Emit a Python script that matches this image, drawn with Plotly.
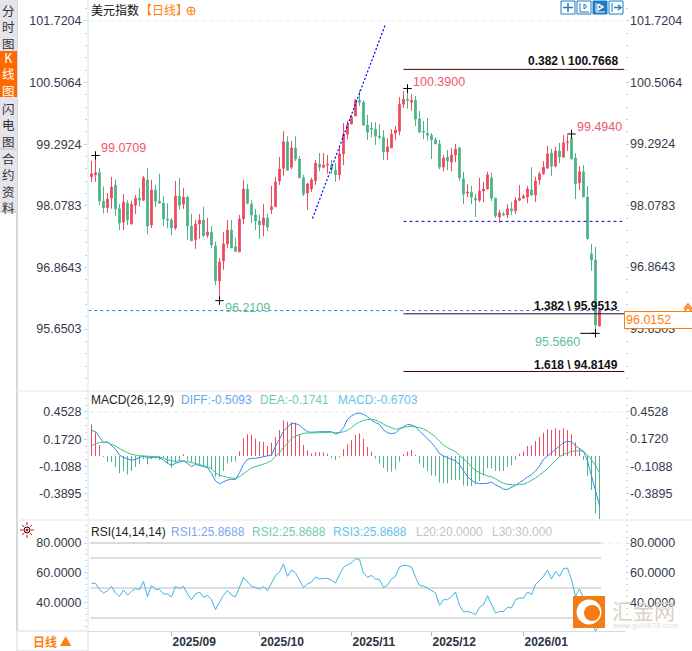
import plotly.graph_objects as go

# ------------------------------
# Data
# ------------------------------

opens = [
    98.65, 98.69, 98.73, 98.17, 98.04, 98.23, 98.49, 98.02, 97.76, 98.13,
    97.72, 98.09, 98.23, 98.19, 98.59, 97.70, 98.39, 98.17, 98.13, 97.82,
    97.80, 97.64, 98.27, 98.11, 98.25, 97.68, 97.41, 97.72, 97.80, 97.50,
    97.56, 97.29, 96.60, 96.99, 97.33, 97.60, 97.27, 97.17, 97.82, 98.41,
    98.11, 97.90, 97.78, 97.70, 97.84, 98.00, 98.06, 98.57, 98.82, 99.34,
    98.84, 99.22, 99.00, 98.63, 98.33, 98.41, 98.57, 98.90, 98.84, 98.88,
    98.88, 98.78, 98.69, 99.10, 99.49, 99.69, 99.85, 100.16, 100.12, 99.67,
    99.61, 99.59, 99.45, 99.43, 99.14, 99.22, 99.51, 99.55, 100.08, 100.18,
    100.12, 100.16, 99.79, 99.55, 99.51, 99.47, 99.38, 99.30, 98.84, 99.04,
    98.94, 99.08, 99.22, 98.61, 98.33, 98.35, 98.23, 98.19, 98.37, 98.41,
    98.63, 98.23, 97.86, 97.92, 97.90, 98.02, 97.98, 98.19, 98.23, 98.25,
    98.39, 98.29, 98.59, 98.71, 98.82, 99.12, 98.86, 99.16, 99.04, 99.33,
    99.41, 99.02, 98.53, 98.75, 98.25, 97.13, 97.01, 95.71,
]
closes = [
    98.71, 98.73, 98.18, 98.04, 98.21, 98.45, 98.02, 97.74, 98.15, 97.80,
    98.11, 98.23, 98.19, 98.63, 97.68, 98.39, 98.17, 98.13, 97.82, 97.80,
    97.64, 98.27, 98.09, 98.25, 97.68, 97.39, 97.72, 97.80, 97.49, 97.56,
    97.31, 96.60, 96.97, 97.33, 97.60, 97.25, 97.18, 97.82, 98.41, 98.13,
    97.90, 97.78, 97.70, 97.84, 97.66, 98.06, 98.55, 98.80, 99.34, 98.78,
    99.22, 99.00, 98.63, 98.31, 98.51, 98.59, 98.92, 98.84, 98.88, 98.90,
    98.80, 98.69, 99.10, 99.49, 99.67, 99.83, 100.16, 100.12, 99.67, 99.53,
    99.59, 99.45, 99.43, 99.14, 99.24, 99.49, 99.57, 100.08, 100.18, 100.16,
    100.16, 99.79, 99.53, 99.53, 99.47, 99.38, 99.30, 98.84, 99.02, 98.96,
    99.08, 99.20, 98.63, 98.31, 98.35, 98.25, 98.19, 98.37, 98.41, 98.69,
    98.23, 97.88, 97.94, 97.90, 98.02, 97.98, 98.19, 98.23, 98.27, 98.41,
    98.29, 98.57, 98.71, 98.84, 99.10, 98.86, 99.16, 99.04, 99.32, 99.34,
    99.00, 98.51, 98.75, 98.25, 97.43, 97.01, 95.73, 96.0152,
]
highs = [
    98.96, 99.0709, 98.83, 98.46, 98.33, 98.65, 98.60, 98.11, 98.31, 98.19,
    98.18, 98.29, 98.43, 98.67, 98.82, 98.59, 98.49, 98.71, 98.27, 98.13,
    97.84, 98.57, 98.63, 98.43, 98.27, 97.92, 97.80, 97.92, 98.06, 97.84,
    97.68, 97.37, 97.05, 97.56, 97.80, 97.80, 97.45, 97.90, 98.59, 98.51,
    98.19, 98.02, 97.90, 98.11, 97.92, 98.47, 98.65, 99.04, 99.55, 99.45,
    99.36, 99.45, 99.06, 98.69, 98.53, 98.63, 98.98, 99.12, 99.12, 99.08,
    98.98, 98.92, 99.24, 99.71, 99.75, 99.87, 100.18, 100.36, 100.16, 99.87,
    99.73, 99.73, 99.69, 99.57, 99.41, 99.59, 99.65, 100.22, 100.34, 100.39,
    100.28, 100.24, 99.95, 99.75, 99.81, 99.51, 99.43, 99.38, 99.08, 99.18,
    99.22, 99.30, 99.24, 98.75, 98.51, 98.47, 98.31, 98.63, 98.55, 98.75,
    98.73, 98.23, 98.00, 97.96, 98.11, 98.15, 98.25, 98.49, 98.31, 98.47,
    98.84, 98.65, 98.75, 98.96, 99.26, 99.20, 99.24, 99.32, 99.47, 99.47,
    99.494, 99.12, 98.86, 98.88, 98.47, 97.33, 97.27, 96.02,
]
lows = [
    98.55, 98.55, 98.09, 97.93, 97.94, 98.02, 97.88, 97.60, 97.60, 97.70,
    97.71, 97.92, 98.06, 98.17, 97.52, 97.64, 98.06, 98.13, 97.68, 97.64,
    97.50, 97.60, 98.00, 98.02, 97.41, 97.39, 97.23, 97.43, 97.47, 97.45,
    97.25, 96.52, 96.2109, 96.82, 97.25, 97.25, 97.17, 97.17, 97.72, 98.11,
    97.74, 97.60, 97.43, 97.48, 97.58, 97.92, 98.06, 98.49, 98.67, 98.78,
    98.80, 98.96, 98.63, 98.27, 98.00, 98.35, 98.49, 98.76, 98.82, 98.71,
    98.71, 98.55, 98.59, 98.88, 99.39, 99.69, 99.85, 100.05, 99.65, 99.38,
    99.43, 99.28, 99.39, 98.98, 98.98, 99.22, 99.38, 99.47, 100.01, 99.99,
    99.95, 99.65, 99.53, 99.39, 99.36, 99.00, 99.30, 98.80, 98.76, 98.78,
    98.76, 98.94, 98.57, 98.11, 98.25, 98.11, 97.86, 98.15, 98.15, 98.41,
    98.17, 97.84, 97.74, 97.88, 97.84, 97.90, 97.92, 98.17, 98.23, 98.13,
    98.27, 98.15, 98.49, 98.69, 98.82, 98.67, 98.84, 98.92, 99.02, 99.16,
    99.00, 98.21, 98.39, 98.25, 97.41, 96.80, 95.566, 95.71,
]

macd_hist = [
    0.326, 0.240, 0.110, -0.010, -0.058, -0.062, -0.113, -0.178, -0.154, -0.189,
    -0.154, -0.113, -0.086, -0.034, -0.086, -0.034, -0.027, -0.041, -0.017, -0.075,
    -0.120, -0.069, -0.045, 0.017, -0.045, -0.062, -0.079, -0.086, -0.096, -0.110,
    -0.137, -0.213, -0.213, -0.154, -0.075, -0.062, -0.055, 0.048, 0.182, 0.223,
    0.216, 0.178, 0.151, 0.144, 0.103, 0.137, 0.195, 0.267, 0.367, 0.353,
    0.346, 0.343, 0.223, 0.113, 0.058, 0.027, 0.038, 0.038, 0.038, 0.024,
    -0.017, -0.041, -0.014, 0.069, 0.120, 0.165, 0.216, 0.233, 0.178, 0.093,
    0.045, -0.027, -0.075, -0.123, -0.161, -0.161, -0.137, -0.058, 0.017, 0.045,
    0.062, 0.010, -0.075, -0.120, -0.154, -0.199, -0.206, -0.274, -0.281, -0.281,
    -0.247, -0.247, -0.247, -0.302, -0.309, -0.309, -0.291, -0.257, -0.199, -0.127,
    -0.127, -0.154, -0.154, -0.154, -0.110, -0.096, -0.041, 0.024, 0.048, 0.103,
    0.110, 0.154, 0.195, 0.240, 0.274, 0.267, 0.285, 0.267, 0.285, 0.267,
    0.223, 0.140, 0.070, -0.040, -0.206, -0.350, -0.590, -0.6703,
]
macd_diff = [
    0.264, 0.250, 0.196, 0.137, 0.147, 0.110, 0.069, 0.010, -0.017, -0.027,
    -0.045, -0.034, -0.017, 0.000, -0.021, -0.014, -0.010, -0.017, -0.041, -0.075,
    -0.096, -0.075, -0.062, -0.051, -0.075, -0.110, -0.086, -0.096, -0.103, -0.120,
    -0.178, -0.257, -0.285, -0.268, -0.247, -0.240, -0.240, -0.172, -0.086, -0.034,
    -0.024, -0.024, -0.017, -0.010, -0.003, 0.010, 0.103, 0.172, 0.257, 0.292,
    0.336, 0.333, 0.316, 0.281, 0.250, 0.244, 0.250, 0.250, 0.250, 0.250,
    0.250, 0.226, 0.240, 0.292, 0.377, 0.412, 0.436, 0.442, 0.429, 0.405,
    0.367, 0.343, 0.326, 0.268, 0.240, 0.230, 0.237, 0.274, 0.302, 0.326,
    0.319, 0.302, 0.257, 0.216, 0.182, 0.137, 0.086, 0.024, 0.000, -0.017,
    -0.041, -0.051, -0.086, -0.154, -0.213, -0.250, -0.274, -0.285, -0.281, -0.281,
    -0.268, -0.298, -0.316, -0.343, -0.343, -0.326, -0.302, -0.274, -0.240, -0.216,
    -0.192, -0.154, -0.103, -0.034, 0.000, 0.034, 0.069, 0.096, 0.137, 0.151,
    0.144, 0.103, 0.075, 0.051, -0.051, -0.206, -0.377, -0.5093,
]
macd_dea = [
    0.103, 0.127, 0.137, 0.144, 0.137, 0.120, 0.103, 0.075, 0.051, 0.034,
    0.017, 0.007, 0.003, 0.000, 0.000, -0.003, -0.007, -0.010, -0.021, -0.041,
    -0.051, -0.055, -0.048, -0.048, -0.055, -0.069, -0.075, -0.089, -0.096, -0.110,
    -0.130, -0.172, -0.199, -0.213, -0.220, -0.226, -0.233, -0.213, -0.178, -0.151,
    -0.123, -0.110, -0.096, -0.082, -0.069, -0.045, -0.010, 0.034, 0.086, 0.137,
    0.178, 0.206, 0.223, 0.233, 0.237, 0.240, 0.240, 0.240, 0.240, 0.244,
    0.244, 0.240, 0.240, 0.250, 0.264, 0.292, 0.326, 0.350, 0.367, 0.374,
    0.377, 0.370, 0.353, 0.326, 0.309, 0.285, 0.274, 0.285, 0.295, 0.302,
    0.305, 0.302, 0.292, 0.278, 0.257, 0.226, 0.196, 0.154, 0.110, 0.086,
    0.069, 0.045, 0.007, -0.027, -0.065, -0.110, -0.147, -0.172, -0.192, -0.206,
    -0.213, -0.233, -0.254, -0.281, -0.292, -0.298, -0.298, -0.292, -0.292, -0.274,
    -0.254, -0.226, -0.196, -0.165, -0.130, -0.086, -0.045, -0.007, 0.017, 0.034,
    0.048, 0.051, 0.055, 0.045, 0.010, -0.041, -0.096, -0.1741,
]
rsi = [
    53.1, 53.1, 48.9, 46.7, 48.2, 51.1, 46.7, 44.4, 48.7, 45.1,
    47.8, 49.6, 48.9, 54.4, 44.2, 51.8, 49.1, 49.1, 46.0, 46.0,
    44.0, 51.1, 49.6, 51.1, 46.0, 42.2, 46.0, 47.3, 43.8, 45.1,
    42.2, 35.6, 40.7, 45.1, 48.4, 45.1, 44.2, 51.1, 57.1, 54.0,
    51.1, 50.4, 49.3, 51.1, 48.2, 53.3, 58.4, 60.7, 66.0, 57.8,
    62.0, 60.0, 55.6, 50.4, 52.7, 54.0, 57.3, 56.0, 56.4, 56.4,
    55.3, 53.3, 58.9, 63.8, 65.6, 66.7, 69.6, 68.9, 60.0, 57.1,
    58.4, 56.0, 55.6, 50.4, 51.8, 56.0, 57.8, 64.0, 65.1, 64.9,
    64.0, 57.1, 51.6, 51.3, 50.0, 48.2, 46.7, 38.4, 42.2, 42.2,
    44.4, 47.3, 38.4, 34.0, 34.4, 33.6, 32.2, 37.1, 38.9, 44.9,
    38.9, 33.3, 34.4, 34.4, 37.1, 36.7, 42.2, 43.3, 43.3, 47.3,
    45.6, 52.2, 54.9, 57.8, 61.8, 56.0, 61.1, 57.8, 62.9, 63.3,
    55.6, 44.4, 49.3, 43.3, 32.2, 27.8, 21.1, 25.87,
]
assert all(len(s) == 128 for s in [opens, closes, highs, lows, macd_hist, macd_diff, macd_dea, rsi])
bars = list(range(len(opens)))

price_ticks = [101.7204, 100.5064, 99.2924, 98.0783, 96.8643, 95.6503]
macd_ticks = [0.4528, 0.1720, -0.1088, -0.3895]
rsi_ticks = [80, 60, 40]
rsi_levels = [80, 70, 50, 30, 20]

month_bars = [20, 42, 65, 85, 108]
month_labels = ["2025/09", "2025/10", "2025/11", "2025/12", "2026/01"]

# fibonacci levels: ratio, price
fib_ratios = ["0.382", "1.382", "1.618"]
fib_prices = [100.7668, 95.9513, 94.8149]

last_price = 96.0152

# extremes: bar, price
peak_bars = [1, 32, 79, 120, 126]
peak_prices = [99.0709, 96.2109, 100.39, 99.494, 95.566]

red = "#ef4a5f"
green = "#4eb487"
tick_color = "#333a4e"
orange = "#ff7f0e"
W, H = 692, 651


def px(x, y):
    return x / W, 1 - y / H


def label(x, y, text, color="#222", size=12, anchor="left", family="Liberation Sans", **kw):
    xp, yp = px(x, y)
    fig.add_annotation(
        x=xp, y=yp, xref="paper", yref="paper", text=text, showarrow=False,
        xanchor=anchor, yanchor="middle", font=dict(color=color, size=size, family=family),
        borderpad=0, **kw,
    )


def box(x0, y0, x1, y1, fill=None, line=None, kind="rect", width=1):
    a, b = px(x0, y0)
    c, d = px(x1, y1)
    fig.add_shape(
        type=kind, xref="paper", yref="paper", x0=a, y0=b, x1=c, y1=d, fillcolor=fill,
        line=dict(color=line, width=width if line else 0),
    )


def stroke(points, color, width=1):
    path = "M " + " L ".join("{:.5f},{:.5f}".format(*px(x, y)) for x, y in points)
    fig.add_shape(type="path", xref="paper", yref="paper", path=path, line=dict(color=color, width=width))


def stems(sign):
    # one thin vertical stroke per bar, split with gaps
    xs, ys = [], []
    for i, v in zip(bars, macd_hist):
        if v * sign > 0:
            xs += [i, i, None]
            ys += [0, v, None]
    return xs, ys


fig = go.Figure()

# ------------------------------
# Traces
# ------------------------------

fig.add_trace(go.Candlestick(
    x=bars, open=opens, high=highs, low=lows, close=closes, whiskerwidth=0,
    increasing=dict(line=dict(color=red, width=1), fillcolor=red),
    decreasing=dict(line=dict(color=green, width=1), fillcolor=green),
))
fig.add_trace(go.Scatter(
    x=[55.25, 73.5], y=[97.83, 101.66], mode="lines",
    line=dict(color="#0000ff", width=1.2, dash="2px,2px"),
))
fig.add_trace(go.Scatter(
    x=[78, 132.7], y=[97.773, 97.773], mode="lines",
    line=dict(color="#0000cc", width=1, dash="3px,3px"),
))
fig.add_trace(go.Scatter(
    x=[-0.8, 132.7], y=[last_price, last_price], mode="lines",
    line=dict(color="#1e88e5", width=1, dash="3px,3px"),
))
for ratio_price in fib_prices:
    fig.add_trace(go.Scatter(
        x=[78, 133.2], y=[ratio_price, ratio_price], mode="lines",
        line=dict(color="#3a0808", width=1),
    ))
fig.add_trace(go.Scatter(
    x=peak_bars, y=peak_prices, mode="markers",
    marker=dict(symbol="cross-thin", size=6, line=dict(color="black", width=1)),
))
fig.add_trace(go.Scatter(
    x=[122.2, 126.2], y=[95.566, 95.566], mode="lines", line=dict(color="black", width=1),
))

for sign, color in [(1, red), (-1, green)]:
    stem_x, stem_y = stems(sign)
    fig.add_trace(go.Scatter(x=stem_x, y=stem_y, yaxis="y2", mode="lines", line=dict(color=color, width=1)))
fig.add_trace(go.Scatter(x=bars, y=macd_diff, yaxis="y2", mode="lines", line=dict(color="#2f8cf0", width=1)))
fig.add_trace(go.Scatter(x=bars, y=macd_dea, yaxis="y2", mode="lines", line=dict(color="#3cc38a", width=1)))

for level in rsi_levels:
    fig.add_trace(go.Scatter(
        x=[-0.3, 127.4], y=[level, level], yaxis="y3", mode="lines",
        line=dict(color="#bdbdbd", width=1),
    ))
fig.add_trace(go.Scatter(x=bars, y=rsi, yaxis="y3", mode="lines", line=dict(color="#3db2e8", width=1)))

# ------------------------------
# Axes
# ------------------------------

y_common = dict(
    side="left", showgrid=False, zeroline=False, showline=False, ticks="outside", ticklen=3,
    tickcolor="#b8d8ee", mirror="ticks", fixedrange=True,
    tickfont=dict(family="Liberation Sans", size=12.5, color=tick_color),
)
minor_common = dict(ticks="outside", ticklen=2, tickcolor="#c8d2da", showgrid=False)

fig.update_layout(
    width=W, height=H, margin=dict(l=0, r=0, t=0, b=0), showlegend=False,
    paper_bgcolor="white", plot_bgcolor="white", boxgap=0.4,
    font=dict(family="Liberation Sans"),
    xaxis=dict(
        domain=[88 / W, 625 / W], range=[-0.875, 133.375], anchor="y3", showgrid=False,
        zeroline=False, rangeslider=dict(visible=False), showline=True, linecolor="#d5dde4",
        ticks="outside", ticklen=4, tickcolor="#bbbbbb", tickvals=month_bars,
        ticktext=["<b>{}</b>".format(m) for m in month_labels],
        ticklabelposition="outside right",
        tickfont=dict(family="Liberation Sans", size=12, color="#2c3345"),
    ),
    yaxis=dict(
        domain=[1 - 391 / H, 1], range=[94.43, 102.134], tickvals=price_ticks,
        ticktext=["{:.4f}".format(v) for v in price_ticks],
        minor=dict(dtick=0.2428, tick0=101.7204, **minor_common), **y_common,
    ),
    yaxis2=dict(
        domain=[1 - 520 / H, 1 - 391 / H], range=[-0.6584, 0.6687], tickvals=macd_ticks,
        ticktext=["{:.4f}".format(v) for v in macd_ticks],
        minor=dict(dtick=0.0702, tick0=0.4528, **minor_common), **y_common,
    ),
    yaxis3=dict(
        domain=[1 - 631 / H, 1 - 520 / H], range=[21.33, 95.33], tickvals=rsi_ticks,
        ticktext=["{:.4f}".format(v) for v in rsi_ticks],
        minor=dict(dtick=4, tick0=80, **minor_common), **y_common,
    ),
)

# ------------------------------
# Frame and side tabs
# ------------------------------

box(88, 0, 88, 631, line="#e4edf4")
box(17, 0, 17, 631, line="#c9cbd3")
box(17, 391, W, 391, line="#eeeeee")
box(17, 520, W, 520, line="#eeeeee")
box(0, 0, 17, 212, fill="#e3e4ec")
box(0, 51, 17, 97, fill="#ff6a00")
box(0, 149, 17, 149, line="#c9cbd3")
box(0, 212, 17, 212, line="#c9cbd3")
box(17, 631, 88, 651, fill="white", line="#d5dde4")

for text, y, color in [
    ("分<br>时<br>图", 27, "#333"),
    ("K<br>线<br>图", 74, "white"),
    ("闪<br>电<br>图", 125, "#333"),
    ("合<br>约<br>资<br>料", 183, "#333"),
]:
    label(8.5, y, text, color=color, size=12.5, anchor="center", family="Noto Sans CJK SC")

# dashed line at the top tick of each pane
for ref, value in [("y", price_ticks[0]), ("y2", macd_ticks[0]), ("y3", rsi_ticks[0])]:
    fig.add_shape(
        type="line", xref="paper", yref=ref, x0=90 / W, x1=623 / W, y0=value, y1=value,
        line=dict(color="#e9e9e9", width=1, dash="4px,3px"), layer="below",
    )

# ------------------------------
# Text
# ------------------------------

for value in price_ticks + macd_ticks + rsi_ticks:
    ref = "y" if value in price_ticks else ("y2" if value in macd_ticks else "y3")
    fig.add_annotation(
        x=628 / W, y=value, xref="paper", yref=ref, text="{:.4f}".format(value), showarrow=False,
        xanchor="left", font=dict(size=12.5, color=tick_color, family="Liberation Sans"),
    )

label(90, 10, "美元指数", color="#111", size=12, family="Noto Sans CJK SC")
label(139, 9, "【日线】", color=orange, size=12, family="Noto Sans CJK SC")
box(187, 7, 195, 15, line=orange, kind="circle")
stroke([(187, 11), (195, 11)], orange)
stroke([(191, 7), (191, 15)], orange)

red_text = "#f2566c"
green_text = "#62bf95"
label(100, 148, "99.0709", color=red_text, size=12.5)
label(412, 82, "100.3900", color=red_text, size=12.5)
label(576, 127, "99.4940", color=red_text, size=12.5)
label(224, 308, "96.2109", color=green_text, size=12.5)
label(534, 342, "95.5660", color=green_text, size=12.5)

fib_label_y = [61, 306, 365]
for ratio, price, y in zip(fib_ratios, fib_prices, fib_label_y):
    label(619, y, "<b>{} \\ {:.4f}</b>".format(ratio, price), color="#111", size=12, anchor="right")

label(90, 400, "MACD(26,12,9)", color="#222", size=12)
label(180, 400, "DIFF:-0.5093", color="#6aa5f0", size=12)
label(259, 400, "DEA:-0.1741", color="#6fd0a5", size=12)
label(337, 400, "MACD:-0.6703", color="#63c3ee", size=12)

label(90, 532, "RSI(14,14,14)", color="#222", size=12)
label(170, 532, "RSI1:25.8688", color="#7aa6f2", size=12)
label(251, 532, "RSI2:25.8688", color="#6fd0a5", size=12)
label(332, 532, "RSI3:25.8688", color="#63c3ee", size=12)
label(415, 532, "L20:20.0000", color="#c4c4c4", size=12)
label(491, 532, "L30:30.000", color="#c4c4c4", size=12)

label(52, 641, "<b>日线 ▲</b>", color=orange, size=12, anchor="center", family="Noto Sans CJK SC")

# current price box, sits on top of the axis label
fig.add_annotation(
    x=624 / W, y=last_price, xref="paper", yref="y", yshift=-9, text="96.0152", showarrow=False,
    xanchor="left", align="left", width=65, height=14, bgcolor="white", bordercolor=orange,
    borderwidth=1, borderpad=1, font=dict(size=12.5, color=orange, family="Liberation Sans"),
)
stroke([(684, 309), (688, 304), (692, 309)], orange, 1.5)
stroke([(684, 312), (688, 307), (692, 312)], orange, 1.5)

# ------------------------------
# Small icons
# ------------------------------

icon_blue = "#1a7ac4"
box(561, 1, 575, 14, fill="white", line=icon_blue)
box(577, 1, 591, 14, fill="white", line=icon_blue)
box(593, 1, 607, 14, fill=icon_blue, line=icon_blue)
box(609, 1, 623, 14, fill="white", line=icon_blue)
stroke([(563, 7.5), (573, 7.5)], icon_blue, 1.5)
stroke([(568, 3), (568, 12)], icon_blue, 1.5)
stroke([(580, 3), (580, 12), (589, 12)], icon_blue)
stroke([(584, 4), (584, 9), (587, 6.5), (584, 4)], icon_blue)
stroke([(596, 3), (596, 12), (605, 12)], "white")
stroke([(598, 4), (598, 10), (603, 7), (598, 4)], "white", 1.5)
stroke([(612, 3), (612, 12)], icon_blue)
stroke([(614, 7.5), (620, 7.5)], icon_blue, 1.5)
stroke([(618, 5), (621, 7.5), (618, 10)], icon_blue, 1.5)

# RSI settings sun
box(24, 527, 30, 533, line="black", kind="circle")
box(25.5, 528.5, 28.5, 531.5, fill="red", kind="circle")
for a, b, c, d in [(27, 522, 27, 525), (27, 535, 27, 538), (20, 530, 23, 530), (31, 530, 34, 530),
                   (22, 525, 24, 527), (32, 525, 30, 527), (22, 535, 24, 533), (32, 535, 30, 533)]:
    stroke([(a, b), (c, d)], "red")

# site logo
box(574, 597, 604, 627, fill="#f57b14", line="#f57b14", width=2)
box(576.5, 599.5, 601.5, 624.5, fill="white", kind="circle")
box(584, 605, 600, 621, fill="#f57b14", kind="circle")
label(611, 610, "汇金网", color="#dbd0c6", size=21, family="Noto Sans CJK SC")
label(611, 625, "www.gold678.com", color="#e0e0e0", size=8)

fig.write_html(
    "out.html", config=dict(displayModeBar=False),
    post_script="document.body.style.margin='0';",
)
